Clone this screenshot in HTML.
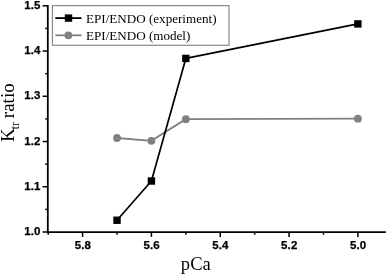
<!DOCTYPE html>
<html><head><meta charset="utf-8"><title>Ktr ratio vs pCa</title>
<style>html,body{margin:0;padding:0;background:#fff;}svg{display:block;filter:blur(0.3px);}
.tk{font-family:"Liberation Sans",Arial,sans-serif;font-weight:bold;font-size:11.5px;letter-spacing:0.1px;fill:#000;stroke:#000;stroke-width:0.25px;}
.sf{font-family:"Liberation Serif","Times New Roman",serif;fill:#000;}
</style></head><body>
<svg width="387" height="274" viewBox="0 0 387 274">
<rect width="387" height="274" fill="#fff"/>
<g stroke="#000" stroke-width="1.8" fill="none" stroke-linecap="butt">
<line x1="47.8" y1="5" x2="47.8" y2="233.0"/>
<line x1="46.9" y1="232.1" x2="385.8" y2="232.1"/>
</g>
<g stroke="#000" stroke-width="1.5" fill="none">
<line x1="42.6" y1="232.00" x2="47.8" y2="232.00"/>
<line x1="45.3" y1="209.38" x2="47.8" y2="209.38"/>
<line x1="42.6" y1="186.76" x2="47.8" y2="186.76"/>
<line x1="45.3" y1="164.14" x2="47.8" y2="164.14"/>
<line x1="42.6" y1="141.52" x2="47.8" y2="141.52"/>
<line x1="45.3" y1="118.90" x2="47.8" y2="118.90"/>
<line x1="42.6" y1="96.28" x2="47.8" y2="96.28"/>
<line x1="45.3" y1="73.66" x2="47.8" y2="73.66"/>
<line x1="42.6" y1="51.04" x2="47.8" y2="51.04"/>
<line x1="45.3" y1="28.42" x2="47.8" y2="28.42"/>
<line x1="42.6" y1="5.80" x2="47.8" y2="5.80"/>
<line x1="48.19" y1="232.1" x2="48.19" y2="234.7"/>
<line x1="82.60" y1="232.1" x2="82.60" y2="236.9"/>
<line x1="117.01" y1="232.1" x2="117.01" y2="234.7"/>
<line x1="151.42" y1="232.1" x2="151.42" y2="236.9"/>
<line x1="185.83" y1="232.1" x2="185.83" y2="234.7"/>
<line x1="220.24" y1="232.1" x2="220.24" y2="236.9"/>
<line x1="254.65" y1="232.1" x2="254.65" y2="234.7"/>
<line x1="289.06" y1="232.1" x2="289.06" y2="236.9"/>
<line x1="323.47" y1="232.1" x2="323.47" y2="234.7"/>
<line x1="357.88" y1="232.1" x2="357.88" y2="236.9"/>
</g>
<text class="tk" x="40.6" y="235.00" text-anchor="end">1.0</text>
<text class="tk" x="40.6" y="189.76" text-anchor="end">1.1</text>
<text class="tk" x="40.6" y="144.52" text-anchor="end">1.2</text>
<text class="tk" x="40.6" y="99.28" text-anchor="end">1.3</text>
<text class="tk" x="40.6" y="54.04" text-anchor="end">1.4</text>
<text class="tk" x="40.6" y="8.80" text-anchor="end">1.5</text>
<text class="tk" x="82.80" y="248.6" text-anchor="middle">5.8</text>
<text class="tk" x="151.62" y="248.6" text-anchor="middle">5.6</text>
<text class="tk" x="220.44" y="248.6" text-anchor="middle">5.4</text>
<text class="tk" x="289.26" y="248.6" text-anchor="middle">5.2</text>
<text class="tk" x="358.08" y="248.6" text-anchor="middle">5.0</text>
<text class="sf" font-size="18.5" x="180.8" y="270" letter-spacing="0.1">pCa</text>
<g transform="translate(14.3,0) rotate(-90)"><text class="sf" font-size="19" x="-141.9" y="0">K</text><text class="sf" font-size="11.5" x="-129.2" y="4.6">tr</text><text class="sf" font-size="19" x="-118.16" y="0">ratio</text></g>
<rect x="52.4" y="5.6" width="176.6" height="39.7" fill="#fff" stroke="#8a8a8a" stroke-width="1.2"/>
<line x1="55.3" y1="18.1" x2="81.5" y2="18.1" stroke="#000" stroke-width="1.8"/>
<rect x="64.8" y="14.4" width="7.4" height="7.4" fill="#000"/>
<line x1="55.3" y1="35.3" x2="81.5" y2="35.3" stroke="#808080" stroke-width="1.8"/>
<circle cx="68.4" cy="35.3" r="3.9" fill="#808080"/>
<text class="sf" font-size="13.1" x="86.0" y="22.7">EPI/ENDO (experiment)</text>
<text class="sf" font-size="13.1" x="86.0" y="39.5">EPI/ENDO (model)</text>
<polyline points="117.01,137.99 151.42,140.80 185.83,119.13 357.88,118.72" fill="none" stroke="#808080" stroke-width="1.8" stroke-linejoin="round"/>
<circle cx="117.01" cy="137.99" r="3.9" fill="#808080"/>
<circle cx="151.42" cy="140.80" r="3.9" fill="#808080"/>
<circle cx="185.83" cy="119.13" r="3.9" fill="#808080"/>
<circle cx="357.88" cy="118.72" r="3.9" fill="#808080"/>
<polyline points="117.01,220.24 151.42,181.01 185.83,58.41 357.88,23.90" fill="none" stroke="#000" stroke-width="1.7" stroke-linejoin="round"/>
<rect x="113.31" y="216.54" width="7.4" height="7.4" fill="#000"/>
<rect x="147.72" y="177.31" width="7.4" height="7.4" fill="#000"/>
<rect x="182.13" y="54.71" width="7.4" height="7.4" fill="#000"/>
<rect x="354.18" y="20.20" width="7.4" height="7.4" fill="#000"/>
</svg>
</body></html>
